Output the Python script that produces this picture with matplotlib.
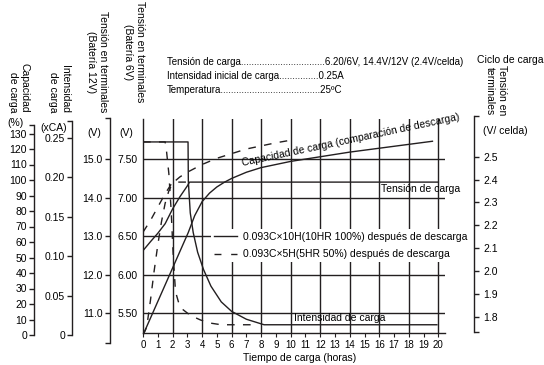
import matplotlib
matplotlib.use('Agg')
import matplotlib.pyplot as plt
from matplotlib.lines import Line2D

plt.rcParams['font.family'] = ['Liberation Sans', 'DejaVu Sans']
plt.rcParams['font.size'] = 7.5

INK = '#231f20'

# --- data ---
hours_ticks = list(range(0, 21))
grid_hours = list(range(2, 21, 2))
v12_ticks = [11.0, 12.0, 13.0, 14.0, 15.0]
cap_ticks = list(range(0, 131, 10))
ca_ticks = [0, 0.05, 0.10, 0.15, 0.20, 0.25]
cell_ticks = [1.8, 1.9, 2.0, 2.1, 2.2, 2.3, 2.4, 2.5]

# charge voltage (12V battery), 100% and 50% discharged
t_v100 = [0, 0.5, 1.0, 1.5, 2.0, 2.5, 3.0, 3.15, 20.0]
v_v100 = [12.62, 12.85, 13.07, 13.32, 13.70, 14.02, 14.30, 14.40, 14.40]
t_v50 = [0, 0.5, 1.0, 1.5, 2.0, 3.15]
v_v50 = [13.10, 13.40, 13.75, 14.10, 14.40, 14.40]

# charge current (xCA)
t_i100 = [0, 3.05, 3.07, 3.2, 3.4, 3.7, 4.1, 4.6, 5.3, 6.0, 7.0, 8.2, 19.9]
i_i100 = [0.245, 0.245, 0.195, 0.155, 0.13, 0.105, 0.083, 0.062, 0.042, 0.030, 0.020, 0.013, 0.013]
t_i50 = [0, 1.5, 1.6, 1.75, 1.9, 2.05, 2.2, 2.4, 2.65, 3.2, 3.9, 4.6, 5.3, 7.5]
i_i50 = [0.245, 0.245, 0.232, 0.205, 0.16, 0.10, 0.055, 0.042, 0.033, 0.025, 0.019, 0.015, 0.013, 0.013]

# charged capacity (%)
t_c100 = [0, 3.06, 3.5, 4, 4.5, 5, 5.5, 6, 7, 8, 10, 12, 14, 16, 18, 19.6]
c_c100 = [0, 66, 77, 86, 91.5, 95.5, 98.5, 101, 105, 108, 112, 115, 118, 120.5, 123, 125]
t_c50 = [0, 0.25, 0.5, 0.75, 1.0, 1.25, 1.5, 1.75, 2.0, 2.5, 3, 4, 5, 6, 7, 8, 9, 10.2]
c_c50 = [0, 5, 22, 41, 58, 73, 85, 93, 98, 102, 105, 110, 114, 117, 120, 122, 124, 126]

legend_labels = ['0.093C×10H(10HR 100%) después de descarga',
                 '0.093C×5H(5HR 50%) después de descarga']

W, H = 544, 365
PT = 72 / 100  # points per pixel at dpi=100
fig = plt.figure(figsize=(W / 100, H / 100), dpi=100)


def frect(x0, x1, ytop, ybot):
    return [x0 / W, 1 - ybot / H, (x1 - x0) / W, (ybot - ytop) / H]


def fx(px):
    return px / W


def fy(py):
    return 1 - py / H


DASH = (5.5, 6.0)
XMAX = 20.45

# main plot: hours vs 12V voltage
ax = fig.add_axes(frect(143, 445, 119, 333))
ax.set_xlim(0, XMAX)
ax.set_ylim(10.481, 16.039)
ax.patch.set_visible(False)
for s in ['top', 'right']:
    ax.spines[s].set_visible(False)
for s in ['left', 'bottom']:
    ax.spines[s].set_color(INK)
    ax.spines[s].set_linewidth(1.0)
ax.set_xticks(hours_ticks)
ax.tick_params(axis='x', direction='out', length=4 * PT, width=0.8, color=INK,
               labelsize=7, pad=2)
# 6V scale labels sit on the main left spine
ax.set_yticks(v12_ticks)
ax.yaxis.set_major_formatter(lambda v, p: f'{v / 2:.2f}')
ax.tick_params(axis='y', length=0, pad=5 * PT, labelsize=7.5)
for v in v12_ticks:
    ax.axhline(v, color=INK, lw=1.0)
for h in grid_hours:
    ax.axvline(h, color=INK, lw=1.0)
ax.plot(t_v100, v_v100, color=INK, lw=1.0)
ax.plot(t_v50, v_v50, color=INK, lw=1.0, dashes=DASH)


def scale_axes(rect, ylim, side, offset_px):
    a = fig.add_axes(rect)
    a.set_xlim(0, XMAX)
    a.set_ylim(*ylim)
    a.patch.set_visible(False)
    for s in a.spines:
        a.spines[s].set_visible(s == side)
    a.spines[side].set_color(INK)
    a.spines[side].set_linewidth(1.0)
    a.spines[side].set_position(('outward', offset_px * PT))
    a.xaxis.set_visible(False)
    if side == 'right':
        a.yaxis.tick_right()
    a.tick_params(axis='y', direction='out', length=5 * PT, width=1.0, color=INK,
                  labelsize=7.5, pad=1.5)
    return a


# capacity scale (%)
cap_top = (335 - 125) / 1.55
ax_cap = scale_axes(frect(143, 445, 125, 335), (0, cap_top), 'left', 143 - 34)
ax_cap.set_yticks(cap_ticks + [cap_top], [str(v) for v in cap_ticks] + [''])
ax_cap.plot(t_c100, c_c100, color=INK, lw=1.0)
ax_cap.plot(t_c50, c_c50, color=INK, lw=1.0, dashes=DASH)

# current scale (xCA)
ca_top = (335 - 121) / 788
ax_ca = scale_axes(frect(143, 445, 121, 335), (0, ca_top), 'left', 143 - 72)
ax_ca.set_yticks(ca_ticks + [ca_top],
                 ['0' if v == 0 else f'{v:.2f}' for v in ca_ticks] + [''])
ax_ca.plot(t_i100, i_i100, color=INK, lw=1.0)
ax_ca.plot(t_i50, i_i50, color=INK, lw=1.0, dashes=DASH)

# 12V terminal voltage scale
v12_lim = (10.221, 16.065)
ax_v12 = scale_axes(frect(143, 445, 118, 343), v12_lim, 'left', 143 - 110)
ax_v12.set_yticks(v12_ticks + list(v12_lim),
                  [f'{v:.1f}' for v in v12_ticks] + ['', ''])

# right scale, V per cell
cell_lim = (1.733, 2.678)
ax_r = scale_axes(frect(444, 474, 116, 332), cell_lim, 'right', 0)
ax_r.set_yticks(cell_ticks + list(cell_lim),
                [f'{v:.1f}' for v in cell_ticks] + ['', ''])
ax_r.tick_params(axis='y', pad=3)

# legend with white box over the grid
handles = [Line2D([], [], color=INK, lw=1.0),
           Line2D([], [], color=INK, lw=1.0, dashes=(5.0, 7.0))]
leg = fig.legend(handles, legend_labels, loc='upper left',
                 bbox_to_anchor=(fx(211), fy(229)), bbox_transform=fig.transFigure,
                 frameon=True, fancybox=False, framealpha=1, borderaxespad=0,
                 borderpad=0.25, handlelength=2.2, handletextpad=0.6,
                 labelspacing=0.75, fontsize=7.5)
leg.get_frame().set_edgecolor('none')
leg.get_frame().set_facecolor('white')

# axis titles
fig.text(fx(19), fy(113), 'Capacidad\nde carga', rotation=270, ha='center',
         va='bottom', multialignment='right')
fig.text(fx(59), fy(113), 'Intensidad\nde carga', rotation=270, ha='center',
         va='bottom', multialignment='right')
fig.text(fx(97), fy(62), 'Tensión en terminales\n(Batería 12V)', rotation=270,
         ha='center', va='center', multialignment='center')
fig.text(fx(134), fy(52), 'Tensión en terminales\n(Batería 6V)', rotation=270,
         ha='center', va='center', multialignment='center')
fig.text(fx(496), fy(115), 'Tensión en\nterminales', rotation=270, ha='center',
         va='bottom', multialignment='right')
fig.text(fx(477), fy(60), 'Ciclo de carga', ha='left', va='center')
fig.text(fx(483), fy(131), '(V/ celda)', ha='left', va='center')
fig.text(fx(16), fy(123), '(%)', ha='center', va='center')
fig.text(fx(54), fy(128), '(xCA)', ha='center', va='center')
fig.text(fx(94), fy(133), '(V)', ha='center', va='center')
fig.text(fx(126), fy(133), '(V)', ha='center', va='center')

# header
hdr = dict(ha='left', va='center', fontsize=7)
fig.text(fx(167), fy(62), 'Tensión de carga' + '.' * 32 + '6.20/6V, 14.4V/12V (2.4V/celda)', **hdr)
fig.text(fx(167), fy(76), 'Intensidad inicial de carga' + '.' * 15 + '0.25A', **hdr)
fig.text(fx(167), fy(90), 'Temperatura' + '.' * 38 + '25ºC', **hdr)

# in-plot labels
fig.text(fx(243), fy(166), 'Capacidad de carga (comparación de descarga)',
         rotation=12, rotation_mode='anchor', ha='left', va='baseline')
fig.text(fx(421), fy(189), 'Tensión de carga', ha='center', va='center')
fig.text(fx(340), fy(318), 'Intensidad de carga', ha='center', va='center')
fig.text(fx(300), fy(358), 'Tiempo de carga (horas)', ha='center', va='center')

fig.savefig('out.png', dpi=100)
